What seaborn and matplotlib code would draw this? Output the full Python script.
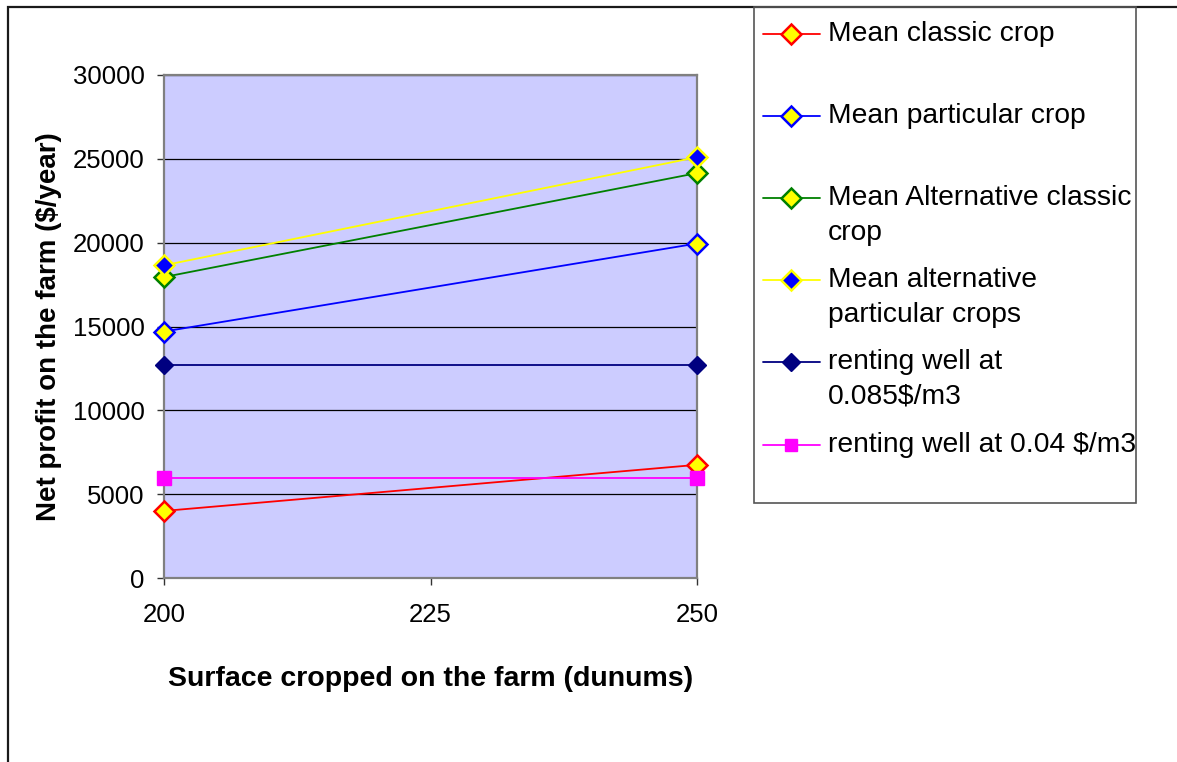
import matplotlib
matplotlib.use("Agg")
import matplotlib.pyplot as plt
from matplotlib.lines import Line2D
from matplotlib.patches import Rectangle
import numpy as np
import pandas as pd
import seaborn as sns

# Data: net farm profit versus cropped surface
surface = [200, 250]
mean_classic = [4000, 6750]
mean_particular = [14700, 19950]
mean_alt_classic = [17950, 24150]
mean_alt_particular = [18650, 25100]
rent_085 = [12700, 12700]
rent_04 = [5950, 5950]

labels = [
    "Mean classic crop",
    "Mean particular crop",
    "Mean Alternative classic\ncrop",
    "Mean alternative\nparticular crops",
    "renting well at\n0.085$/m3",
    "renting well at 0.04 $/m3",
]
y_ticks = [0, 5000, 10000, 15000, 20000, 25000, 30000]
x_ticks = [200, 225, 250]

sns.set_theme(style="white")
plt.rcParams["font.family"] = ["Liberation Sans", "DejaVu Sans"]
plt.rcParams["text.color"] = "black"
plt.rcParams["axes.labelcolor"] = "black"
plt.rcParams["xtick.color"] = "black"
plt.rcParams["ytick.color"] = "black"

W, H = 1177, 762
fig = plt.figure(figsize=(W / 100, H / 100), dpi=100)
fig.patch.set_facecolor("white")


def fx(px):
    return px / W


def fy(py):
    return 1 - py / H


# outer chart frame
fig.add_artist(Rectangle((fx(8), fy(800)), fx(1300), fy(7) - fy(800),
                         transform=fig.transFigure, fill=False,
                         edgecolor="#1a1a1a", linewidth=1.6))

ax = fig.add_axes([fx(164), fy(578), fx(697) - fx(164), fy(75) - fy(578)])
ax.set_facecolor("#CCCCFF")

series = [
    (mean_classic, dict(color="#FF0000", marker="D", markersize=10.5,
                        markerfacecolor="#FFFF00", markeredgecolor="#FF0000", markeredgewidth=1.8)),
    (mean_particular, dict(color="#0000FF", marker="D", markersize=10.5,
                           markerfacecolor="#FFFF00", markeredgecolor="#0000FF", markeredgewidth=1.8)),
    (mean_alt_classic, dict(color="#008000", marker="D", markersize=10.5,
                            markerfacecolor="#FFFF00", markeredgecolor="#008000", markeredgewidth=1.8)),
    (mean_alt_particular, dict(color="#FFFF00", marker="D", markersize=10.5,
                               markerfacecolor="#0000FF", markeredgecolor="#FFFF00", markeredgewidth=1.8)),
    (rent_085, dict(color="#000080", marker="D", markersize=9.5,
                    markerfacecolor="#000080", markeredgecolor="#000080", markeredgewidth=1)),
    (rent_04, dict(color="#FF00FF", marker="s", markersize=9.5,
                   markerfacecolor="#FF00FF", markeredgecolor="#FF00FF", markeredgewidth=1)),
]

for vals, style in series:
    df = pd.DataFrame({"x": surface, "y": vals})
    sns.lineplot(data=df, x="x", y="y", ax=ax, linewidth=1.3,
                 clip_on=False, zorder=3, **style)

ax.set_xlim(200, 250)
ax.set_ylim(0, 30000)
ax.set_xticks(x_ticks)
ax.set_yticks(y_ticks)
ax.set_xticklabels([str(v) for v in x_ticks], fontsize=18.5)
ax.set_yticklabels([str(v) for v in y_ticks], fontsize=18.5)
ax.yaxis.grid(True, color="black", linewidth=0.9)
ax.xaxis.grid(False)
ax.set_axisbelow(True)
for sp in ax.spines.values():
    sp.set_color("#808080")
    sp.set_linewidth(1.6)
ax.tick_params(axis="both", direction="out", length=5, width=1, color="#333333",
               left=True, bottom=True)
ax.tick_params(axis="y", pad=9)
ax.tick_params(axis="x", pad=13)

ax.set_xlabel("Surface cropped on the farm (dunums)", fontsize=20.5,
              fontweight="bold", labelpad=28)
ax.set_ylabel("Net profit on the farm ($/year)", fontsize=20,
              fontweight="bold", labelpad=8)

# legend box
fig.add_artist(Rectangle((fx(754), fy(503)), fx(1136) - fx(754), fy(7) - fy(503),
                         transform=fig.transFigure, fill=False,
                         edgecolor="#555555", linewidth=1.2))
row_y = [34, 116, 198, 280, 362, 445]
for (vals, style), lab, ry in zip(series, labels, row_y):
    fig.add_artist(Line2D([fx(763), fx(820)], [fy(ry), fy(ry)], transform=fig.transFigure,
                          linewidth=1.3, color=style["color"]))
    fig.add_artist(Line2D([fx(791)], [fy(ry)], transform=fig.transFigure,
                          linestyle="none", marker=style["marker"],
                          markersize=style["markersize"] * 0.95,
                          markerfacecolor=style["markerfacecolor"],
                          markeredgecolor=style["markeredgecolor"],
                          markeredgewidth=style["markeredgewidth"]))
    for i, line in enumerate(lab.split("\n")):
        fig.text(fx(828), fy(ry + 35 * i), line, fontsize=20.3, va="center",
                 ha="left", color="black")

fig.savefig("out.png", dpi=100, facecolor="white")
